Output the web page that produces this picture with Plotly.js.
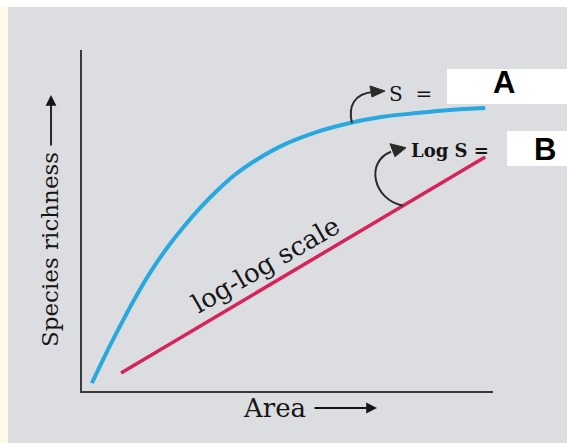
<!DOCTYPE html>
<html>
<head>
<meta charset="utf-8">
<script src="https://cdn.plot.ly/plotly-3.0.1.min.js"></script>
<style>html,body{margin:0;padding:0;background:#fff;}#chart{width:567px;height:443px;}</style>
</head>
<body>
<div id="chart"></div>
<script>
// Species–area curve (arbitrary units)
var areaA = [2.4, 5.6, 8.8, 12.9, 17.0, 20.9, 25.1, 29.2, 33.1, 37.2, 41.4, 48.9, 57.2, 65.2, 73.2, 81.5, 89.5, 98.1];
var speciesA = [2.3, 10.4, 18.0, 27.2, 35.5, 42.3, 48.7, 54.3, 59.0, 63.4, 67.0, 72.1, 76.0, 78.6, 80.4, 81.5, 82.4, 83.0];
// log-log straight line
var areaB = [9.5, 53.8, 98.1];
var speciesB = [5.3, 37.0, 68.6];

var labels = {
  x: 'Area',
  y: 'Species richness',
  line: 'log-log scale',
  eqA: 'S  =',
  eqB: 'Log S =',
  boxA: 'A',
  boxB: 'B'
};

var W = 567, H = 443, L = 82, R = 74, T = 50, B = 52;
var PW = W - L - R, PH = H - T - B;
function px(x) { return (x - L) / PW; }
function py(y) { return (H - B - y) / PH; }

function interp(xs, ys, x) {
  for (var i = 0; i < xs.length - 1; i++) {
    if (x >= xs[i] && x <= xs[i + 1]) {
      return ys[i] + (ys[i + 1] - ys[i]) * (x - xs[i]) / (xs[i + 1] - xs[i]);
    }
  }
  return ys[ys.length - 1];
}

var bg = '#dcdde0';
var serif = 'DejaVu Serif, serif';
var ink = '#151515';

var traces = [
  {x: areaA, y: speciesA, mode: 'lines', line: {color: '#27a8df', width: 4, shape: 'spline', smoothing: 1.0}, hoverinfo: 'skip'},
  {x: areaB, y: speciesB, mode: 'lines', line: {color: '#d6245a', width: 3.5}, hoverinfo: 'skip'}
];

var bx = 78.1, by = interp(areaB, speciesB, bx);
var ax = areaA[13], ay = speciesA[13];

var shapes = [
  // left cream strip and top white band
  {type: 'rect', xref: 'paper', yref: 'paper', x0: px(0), x1: px(8), y0: py(443), y1: py(0), fillcolor: '#fdfbe6', line: {width: 0}, layer: 'below'},
  {type: 'rect', xref: 'paper', yref: 'paper', x0: px(0), x1: px(567), y0: py(7), y1: py(0), fillcolor: '#ffffff', line: {width: 0}, layer: 'below'},
  // white boxes
  {type: 'rect', xref: 'paper', yref: 'paper', x0: px(447), x1: px(567), y0: py(104), y1: py(69), fillcolor: '#ffffff', line: {width: 0}, layer: 'above'},
  {type: 'rect', xref: 'paper', yref: 'paper', x0: px(507), x1: px(567), y0: py(166), y1: py(131), fillcolor: '#ffffff', line: {width: 0}, layer: 'above'},
  // curved arrow to S =
  {type: 'path', xref: 'x', yref: 'y', xsizemode: 'pixel', ysizemode: 'pixel', xanchor: ax, yanchor: ay,
   path: 'M 2 0 C -2 16, 4 30, 24 31', line: {color: '#2a2a2a', width: 2}},
  {type: 'path', xref: 'x', yref: 'y', xsizemode: 'pixel', ysizemode: 'pixel', xanchor: ax, yanchor: ay,
   path: 'M 35 32 L 20 37 L 22 26 Z', fillcolor: '#2a2a2a', line: {color: '#2a2a2a', width: 1}},
  // curved arrow to Log S =
  {type: 'path', xref: 'x', yref: 'y', xsizemode: 'pixel', ysizemode: 'pixel', xanchor: bx, yanchor: by,
   path: 'M 0 0 C -30 6, -38 44, -12 54', line: {color: '#2a2a2a', width: 2}},
  {type: 'path', xref: 'x', yref: 'y', xsizemode: 'pixel', ysizemode: 'pixel', xanchor: bx, yanchor: by,
   path: 'M 3 58 L -13 62 L -8 49 Z', fillcolor: '#2a2a2a', line: {color: '#2a2a2a', width: 1}}
];

var annotations = [
  {xref: 'paper', yref: 'paper', x: px(274), y: py(408), text: labels.x, showarrow: false, xanchor: 'center', yanchor: 'middle',
   font: {family: serif, size: 26, color: ink}},
  {xref: 'paper', yref: 'paper', x: px(377), y: py(408), ax: -64, ay: 0, text: '', showarrow: true,
   arrowhead: 2, arrowsize: 1.2, arrowwidth: 1.8, arrowcolor: ink, standoff: 0},
  {xref: 'paper', yref: 'paper', x: px(50), y: py(250), text: labels.y, textangle: -90, showarrow: false, xanchor: 'center', yanchor: 'middle',
   font: {family: serif, size: 23, color: ink}},
  {xref: 'paper', yref: 'paper', x: px(51), y: py(95), ax: 0, ay: 52, text: '', showarrow: true,
   arrowhead: 2, arrowsize: 1.2, arrowwidth: 1.8, arrowcolor: ink, standoff: 0},
  {xref: 'paper', yref: 'paper', x: px(265), y: py(265), text: labels.line, textangle: -30, showarrow: false, xanchor: 'center', yanchor: 'middle',
   font: {family: serif, size: 26, color: ink}},
  {xref: 'paper', yref: 'paper', x: px(387), y: py(94), text: labels.eqA, showarrow: false, xanchor: 'left', yanchor: 'middle',
   font: {family: serif, size: 20, color: ink}},
  {xref: 'paper', yref: 'paper', x: px(409), y: py(150), text: labels.eqB, showarrow: false, xanchor: 'left', yanchor: 'middle',
   font: {family: serif, size: 18, color: ink, weight: 'bold'}},
  {xref: 'paper', yref: 'paper', x: px(504), y: py(82), text: labels.boxA, showarrow: false, xanchor: 'center', yanchor: 'middle',
   font: {family: 'Liberation Sans, Arial, sans-serif', size: 31, color: '#000', weight: 'bold'}},
  {xref: 'paper', yref: 'paper', x: px(545), y: py(149), text: labels.boxB, showarrow: false, xanchor: 'center', yanchor: 'middle',
   font: {family: 'Liberation Sans, Arial, sans-serif', size: 31, color: '#000', weight: 'bold'}}
];

var axisCommon = {showgrid: false, zeroline: false, showticklabels: false, ticks: '', showline: true, linecolor: '#3a3a3a', linewidth: 2, fixedrange: true};

var layout = {
  width: W, height: H,
  margin: {l: L, r: R, t: T, b: B, pad: 0},
  paper_bgcolor: bg, plot_bgcolor: bg,
  showlegend: false,
  xaxis: Object.assign({range: [0, 100]}, axisCommon),
  yaxis: Object.assign({range: [0, 100]}, axisCommon),
  shapes: shapes,
  annotations: annotations
};

Plotly.newPlot('chart', traces, layout, {displayModeBar: false, staticPlot: true});
</script>
</body>
</html>
